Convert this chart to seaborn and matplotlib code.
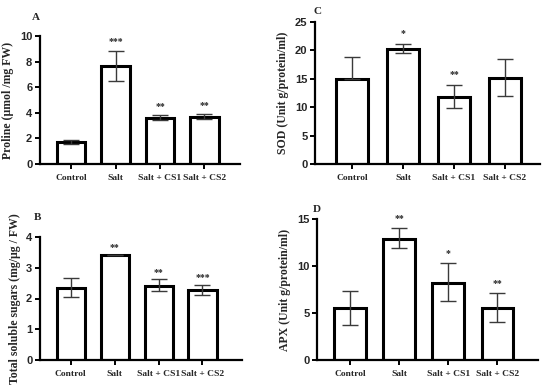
import matplotlib
matplotlib.use("Agg")
import matplotlib.pyplot as plt
import seaborn as sns
import pandas as pd
import numpy as np

sns.set_theme(style="white")
plt.rcParams['font.family'] = ['Liberation Serif', 'DejaVu Serif']

categories = ["Control", "Salt", "Salt + CS1", "Salt + CS2"]

proline = [1.75, 7.65, 3.6, 3.65]
proline_err_lo = [0.15, 1.15, 0.2, 0.15]
proline_err_hi = [0.15, 1.2, 0.22, 0.22]
proline_stars = ["", "***", "**", "**"]

sod = [15.0, 20.3, 11.8, 15.1]
sod_err_lo = [0.0, 0.75, 2.0, 3.2]
sod_err_hi = [3.9, 0.9, 2.1, 3.4]
sod_stars = ["", "*", "**", ""]

sugars = [2.35, 3.41, 2.42, 2.27]
sugars_err_lo = [0.3, 0.01, 0.17, 0.17]
sugars_err_hi = [0.33, 0.02, 0.2, 0.18]
sugars_stars = ["", "**", "**", "***"]

apx = [5.5, 12.9, 8.2, 5.5]
apx_err_lo = [1.75, 1.0, 1.95, 1.5]
apx_err_hi = [1.8, 1.1, 2.1, 1.6]
apx_stars = ["", "**", "*", "**"]

panels = [
    dict(key="A", vals=proline, lo=proline_err_lo, hi=proline_err_hi, stars=proline_stars,
         ylabel="Proline (µmol /mg FW)", ylim=(0, 10), yticks=[0, 2, 4, 6, 8, 10],
         rect=[40, 36, 240, 164], xlim=(-0.7, 3.8), letter=(36, 17), star_off=0.35),
    dict(key="C", vals=sod, lo=sod_err_lo, hi=sod_err_hi, stars=sod_stars,
         ylabel="SOD (Unit g/protein/ml)", ylim=(0, 25), yticks=[0, 5, 10, 15, 20, 25],
         rect=[315, 22, 540, 164], xlim=(-0.73, 3.69), letter=(318, 11), star_off=1.0),
    dict(key="B", vals=sugars, lo=sugars_err_lo, hi=sugars_err_hi, stars=sugars_stars,
         ylabel="Total soluble sugars (mg/µg / FW)", ylim=(0, 4), yticks=[0, 1, 2, 3, 4],
         rect=[40, 237, 242, 360], xlim=(-0.7, 3.9), letter=(37, 218), star_off=0.07),
    dict(key="D", vals=apx, lo=apx_err_lo, hi=apx_err_hi, stars=apx_stars,
         ylabel="APX (Unit g/protein/ml)", ylim=(0, 15), yticks=[0, 5, 10, 15],
         rect=[317, 219, 538, 360], xlim=(-0.67, 3.83), letter=(317, 209), star_off=0.55),
]

W, H = 550, 386
fig = plt.figure(figsize=(W / 100, H / 100), dpi=100)

for p in panels:
    x0, y0, x1, y1 = p["rect"]
    ax = fig.add_axes([x0 / W, 1 - y1 / H, (x1 - x0) / W, (y1 - y0) / H])
    df = pd.DataFrame({"group": categories, "value": p["vals"]})
    sns.barplot(data=df, x="group", y="value", order=categories, ax=ax,
                color="white", edgecolor="black", linewidth=2.2, width=0.64,
                errorbar=None, zorder=2)
    xs = np.arange(len(categories))
    ax.errorbar(xs, p["vals"], yerr=[p["lo"], p["hi"]], fmt="none",
                ecolor="#3a3a3a", elinewidth=1.0, capsize=6, capthick=1.0, zorder=3)
    for xi, v, h, s in zip(xs, p["vals"], p["hi"], p["stars"]):
        if s:
            ax.text(xi, v + h + p["star_off"], s, ha="center", va="bottom",
                    fontsize=7, fontweight="bold", family=["Liberation Serif"])
    ax.set_ylim(*p["ylim"])
    ax.set_xlim(*p["xlim"])
    ax.set_yticks(p["yticks"])
    ax.set_yticklabels([str(t) for t in p["yticks"]], family=["Liberation Sans"],
                       fontweight="bold", fontsize=8)
    ax.set_xticks(xs)
    ax.set_xticklabels(categories, family=["Liberation Serif"], fontweight="bold", fontsize=6.8)
    ax.set_xlabel("")
    ax.set_ylabel(p["ylabel"], family=["Liberation Serif"], fontweight="bold", fontsize=8.5)
    for side in ["top", "right"]:
        ax.spines[side].set_visible(False)
    for side in ["left", "bottom"]:
        ax.spines[side].set_color("black")
        ax.spines[side].set_linewidth(1.6)
    ax.tick_params(axis="both", direction="out", length=3.5, width=1.4, color="black",
                   pad=2, bottom=True, left=True)
    ax.tick_params(axis="x", pad=4)
    ax.set_facecolor("white")
    fig.text(p["letter"][0] / W, 1 - p["letter"][1] / H, p["key"], ha="center", va="center",
             fontsize=8, fontweight="bold", family=["Liberation Serif"])

fig.savefig("out.png", dpi=100, facecolor="white")
